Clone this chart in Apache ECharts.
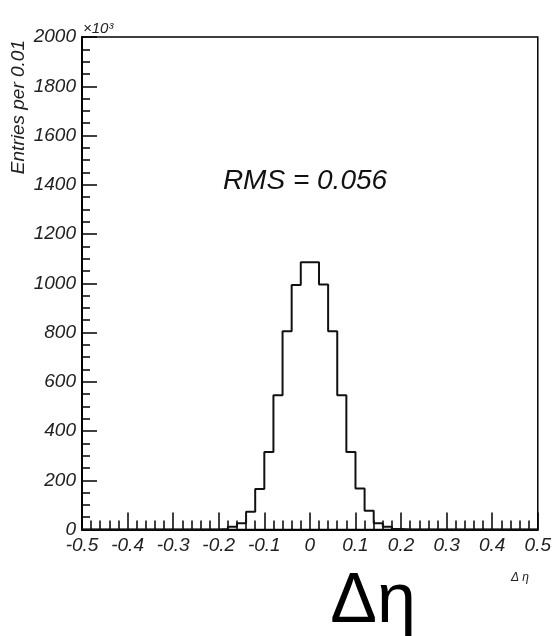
<!DOCTYPE html>
<html>
<head>
<meta charset="utf-8">
<script src="https://cdn.jsdelivr.net/npm/echarts@6/dist/echarts.min.js"></script>
<style>html,body{margin:0;padding:0;background:#fff;}#c{width:554px;height:636px;}</style>
</head>
<body>
<div id="c"></div>
<script>
// Bin edges (left edges) every 0.02 from -0.5 to 0.5, counts (x10^3)
const binWidth = 0.02;
const xMin = -0.5, xMax = 0.5;
// Non-zero bins: left edge -> count
const binLeftEdges = [-0.20,-0.18,-0.16,-0.14,-0.12,-0.10,-0.08,-0.06,-0.04,-0.02,0.00,0.02,0.04,0.06,0.08,0.10,0.12,0.14,0.16,0.18];
const binCounts    = [2,    11,   25,   72,   164,  315,  545,  805,  993,  1085, 1085, 995,  805,  545,  315,  166,  76,   25,   11,   2];
const xTicks = [-0.5,-0.4,-0.3,-0.2,-0.1,0,0.1,0.2,0.3,0.4,0.5];
const yTicks = [0,200,400,600,800,1000,1200,1400,1600,1800,2000];
const rmsText = 'RMS = 0.056';
const yTitle = 'Entries per 0.01';

// Build full histogram (50 bins)
const nBins = Math.round((xMax - xMin) / binWidth);
const counts = new Array(nBins).fill(0);
binLeftEdges.forEach((e, i) => {
  const idx = Math.round((e - xMin) / binWidth);
  counts[idx] = binCounts[i];
});
const stepData = [];
for (let i = 0; i < nBins; i++) {
  stepData.push([+(xMin + i * binWidth).toFixed(2), counts[i]]);
}
stepData.push([xMax, counts[nBins - 1]]);

const font = 'Liberation Sans, Arial, Helvetica, sans-serif';
const chart = echarts.init(document.getElementById('c'));
chart.setOption({
  animation: false,
  backgroundColor: '#fff',
  grid: { left: 82, top: 37, width: 459, height: 492.5, show: true, borderColor: '#000', borderWidth: 1.5, backgroundColor: 'transparent' },
  xAxis: {
    type: 'value', min: xMin, max: xMax, interval: 0.1,
    axisLine: { show: true, onZero: false, lineStyle: { color: '#000', width: 2 } },
    axisTick: { show: true, inside: true, length: 17, lineStyle: { color: '#000', width: 1.5 } },
    minorTick: { show: true, splitNumber: 5, length: 9, lineStyle: { color: '#000', width: 1.5 } },
    splitLine: { show: false },
    axisLabel: {
      margin: 7, color: '#222', fontSize: 19, fontStyle: 'italic', fontFamily: font,
      formatter: v => { const r = Math.round(v * 10) / 10; return r === 0 ? '0' : r.toFixed(1); }
    }
  },
  yAxis: {
    type: 'value', min: 0, max: 2000, interval: 200,
    axisLine: { show: true, onZero: false, lineStyle: { color: '#000', width: 2 } },
    axisTick: { show: true, inside: true, length: 15, lineStyle: { color: '#000', width: 1.5 } },
    minorTick: { show: true, splitNumber: 4, length: 8, lineStyle: { color: '#000', width: 1.5 } },
    splitLine: { show: false },
    axisLabel: { margin: 6, color: '#222', fontSize: 19, fontStyle: 'italic', fontFamily: font,
      formatter: v => String(Math.round(v)) }
  },
  series: [{
    type: 'line', step: 'end', data: stepData, showSymbol: false, symbol: 'none',
    lineStyle: { color: '#111', width: 2 }, z: 3
  }],
  graphic: [
    { type: 'text', x: 305, y: 181, style: { text: rmsText, font: 'italic 28px ' + font, fill: '#111', align: 'center', verticalAlign: 'middle' } },
    { type: 'text', x: 19, y: 40, rotation: Math.PI / 2, style: { text: yTitle, font: 'italic 19px ' + font, fill: '#222', align: 'right', verticalAlign: 'middle' } },
    { type: 'text', x: 83, y: 29, style: { text: '×10³', font: 'italic 15px ' + font, fill: '#222', align: 'left', verticalAlign: 'middle' } },
    { type: 'text', x: 520, y: 578, style: { text: 'Δ η', font: 'italic 12px ' + font, fill: '#222', align: 'center', verticalAlign: 'middle' } },
    { type: 'text', x: 373, y: 603, style: { text: 'Δη', font: '70px ' + font, fill: '#000', align: 'center', verticalAlign: 'middle' } }
  ]
});
</script>
</body>
</html>
